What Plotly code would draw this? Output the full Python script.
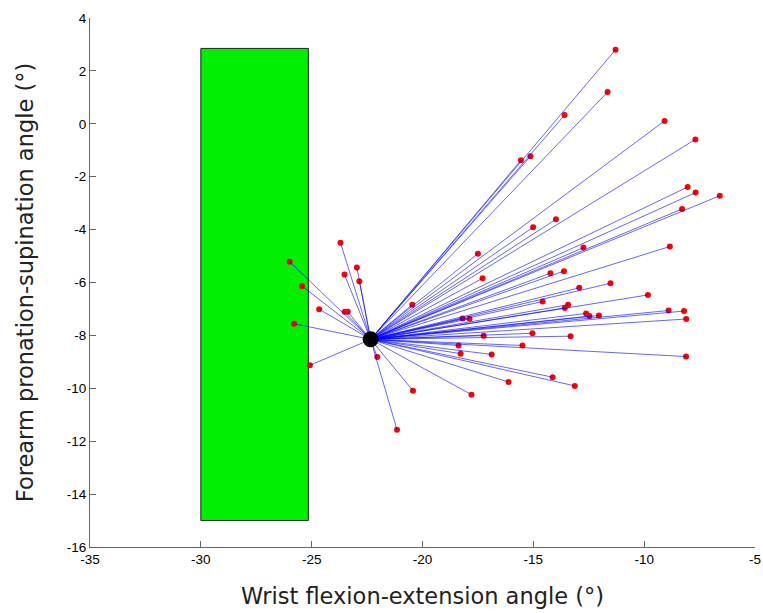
import plotly.graph_objects as go

# Center (mean) posture
center_x = -22.34
center_y = -8.15

# Individual trial end points (wrist flexion-extension, forearm pronation-supination)
trial_x = [-25.99, -25.43, -25.79, -25.08, -24.66, -23.70, -23.52, -22.96, -22.85, -23.51,
           -23.37, -20.46, -22.04, -20.43, -21.15, -18.19, -18.37, -18.28,
           -11.29, -11.65, -13.59, -9.08, -7.69, -15.56, -15.13, -8.04, -7.68, -6.59,
           -8.29, -13.98, -15.01, -17.50, -12.74, -8.84,
           -17.29, -14.23, -13.62, -12.93, -11.52, -9.83, -14.58, -13.43, -13.58,
           -12.62, -12.47, -12.04, -8.90, -8.20, -8.10, -17.88, -15.04, -17.24,
           -13.32, -15.49, -16.88, -8.11, -14.13, -16.12, -13.13, -17.79]
trial_y = [-5.22, -6.14, -7.56, -9.13, -7.01, -4.50, -5.70, -5.43, -5.95, -7.11,
           -7.11, -6.84, -8.82, -10.09, -11.57, -7.36, -8.38, -8.69,
           2.80, 1.20, 0.33, 0.11, -0.59, -1.38, -1.23, -2.39, -2.60, -2.72,
           -3.22, -3.61, -3.91, -4.91, -4.68, -4.64,
           -5.84, -5.65, -5.57, -6.20, -6.03, -6.47, -6.72, -6.84, -6.96,
           -7.17, -7.27, -7.25, -7.06, -7.08, -7.38, -7.37, -7.92, -8.01,
           -8.03, -8.38, -8.72, -8.80, -9.58, -9.76, -9.91, -10.24]

# Target zone
zone_x = [-30.0, -25.15]
zone_y = [-15.0, 2.85]

x_ticks = [-35, -30, -25, -20, -15, -10, -5]
y_ticks = [-16, -14, -12, -10, -8, -6, -4, -2, 0, 2, 4]

seg_x, seg_y = [], []
for px, py in zip(trial_x, trial_y):
    seg_x += [center_x, px, None]
    seg_y += [center_y, py, None]

fig = go.Figure()
fig.add_shape(type="rect", xref="x", yref="y",
              x0=zone_x[0], x1=zone_x[1], y0=zone_y[0], y1=zone_y[1],
              fillcolor="#00ee00", line=dict(color="#222222", width=1), layer="below")
fig.add_trace(go.Scatter(x=trial_x, y=trial_y, mode="markers",
                         marker=dict(color="#ff0000", size=6, line=dict(width=0)),
                         showlegend=False, hoverinfo="skip"))
fig.add_trace(go.Scatter(x=seg_x, y=seg_y, mode="lines",
                         line=dict(color="rgba(0,0,255,0.6)", width=1),
                         showlegend=False, hoverinfo="skip"))
fig.add_trace(go.Scatter(x=[center_x], y=[center_y], mode="markers",
                         marker=dict(color="black", size=16),
                         showlegend=False, hoverinfo="skip"))

axis_font = dict(family="Arial, Liberation Sans", size=13.5, color="#000000")
title_font = dict(family="DejaVu Sans", size=22.5, color="#222222")

fig.update_layout(
    width=763, height=613,
    margin=dict(l=89.5, r=8, t=18, b=65.5),
    plot_bgcolor="white", paper_bgcolor="white",
    xaxis=dict(range=[-35, -5], tickvals=x_ticks, ticktext=[str(v) for v in x_ticks],
               showgrid=False, zeroline=False, showline=True, linecolor="#666666",
               linewidth=1, ticks="inside", ticklen=6, tickcolor="#666666",
               tickfont=axis_font, mirror=False, ticklabeloverflow="allow",
               automargin=False,
               title=dict(text="Wrist flexion-extension angle (°)", font=title_font, standoff=22)),
    yaxis=dict(range=[-16, 4], tickvals=y_ticks, ticktext=[str(v) for v in y_ticks],
               showgrid=False, zeroline=False, showline=True, linecolor="#666666",
               linewidth=1, ticks="inside", ticklen=6, tickcolor="#666666",
               tickfont=axis_font, mirror=False, ticklabeloverflow="allow",
               automargin=False,
               title=dict(text="Forearm pronation-supination angle (°)", font=title_font, standoff=26)),
)

fig.write_html("out.html")
